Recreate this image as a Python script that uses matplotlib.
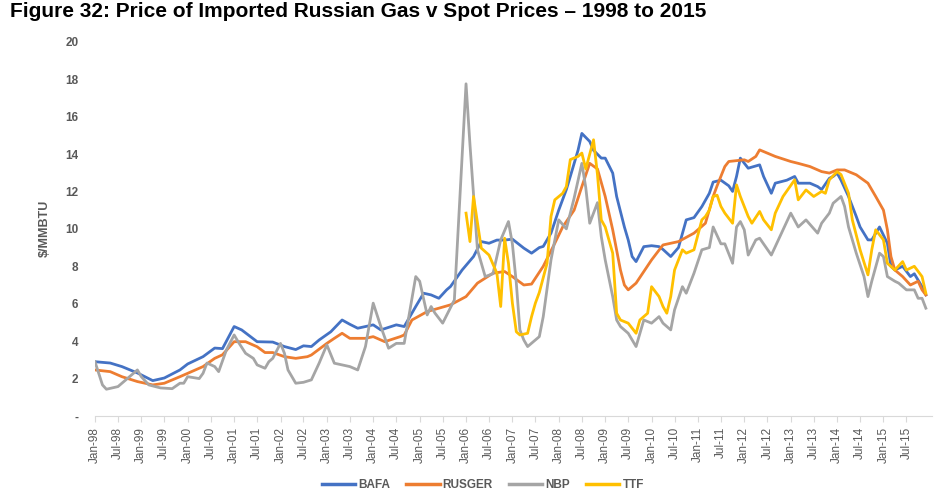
import matplotlib
matplotlib.use("Agg")
import matplotlib.pyplot as plt
import pandas as pd

plt.rcParams['font.family'] = ['Liberation Sans', 'DejaVu Sans']

# monthly prices ($/MMBTU)
bafa_months = ["1998-01", "1998-05", "1998-08", "1998-12", "1999-04", "1999-07", "1999-11", "2000-01",
               "2000-05", "2000-08", "2000-10", "2001-01", "2001-03", "2001-07", "2001-11", "2002-02",
               "2002-05", "2002-07", "2002-09", "2002-11", "2003-02", "2003-05", "2003-07", "2003-09",
               "2004-01", "2004-03", "2004-07", "2004-09", "2004-12", "2005-02", "2005-04", "2005-06",
               "2005-08", "2005-09", "2005-12", "2006-03", "2006-05", "2006-07", "2006-09", "2006-11",
               "2007-01", "2007-04", "2007-06", "2007-08", "2007-09", "2007-11", "2008-01", "2008-03",
               "2008-04", "2008-06", "2008-07", "2008-09", "2008-10", "2008-12", "2009-01", "2009-03",
               "2009-04", "2009-06", "2009-07", "2009-08", "2009-09", "2009-11", "2010-01", "2010-03",
               "2010-04", "2010-06", "2010-08", "2010-10", "2010-12", "2011-02", "2011-04", "2011-05",
               "2011-07", "2011-09", "2011-10", "2011-11", "2011-12", "2012-02", "2012-03", "2012-05",
               "2012-06", "2012-08", "2012-09", "2012-12", "2013-02", "2013-03", "2013-06", "2013-08",
               "2013-09", "2013-11", "2013-12", "2014-01", "2014-02", "2014-04", "2014-06", "2014-07",
               "2014-09", "2014-10", "2014-12", "2015-02", "2015-03", "2015-04", "2015-06", "2015-08",
               "2015-09", "2015-11", "2015-12"]
bafa_price = [2.9, 2.83, 2.64, 2.3, 1.89, 2.03, 2.46, 2.78,
              3.17, 3.63, 3.6, 4.78, 4.6, 3.97, 3.95, 3.71,
              3.55, 3.75, 3.71, 4.06, 4.5, 5.13, 4.9, 4.69,
              4.87, 4.6, 4.87, 4.78, 5.85, 6.56, 6.47, 6.29,
              6.74, 6.92, 7.8, 8.52, 9.32, 9.23, 9.4, 9.4,
              9.45, 8.97, 8.7, 9.0, 9.06, 9.77, 11.0, 12.1,
              12.8, 14.2, 15.1, 14.67, 14.2, 13.78, 13.78, 12.98,
              11.73, 10.1, 9.41, 8.52, 8.25, 9.05, 9.1, 9.05,
              8.9, 8.52, 9.0, 10.48, 10.6, 11.19, 11.9, 12.5,
              12.6, 12.3, 12.0, 12.8, 13.78, 13.24, 13.3, 13.42,
              12.8, 11.9, 12.44, 12.6, 12.8, 12.44, 12.44, 12.26,
              12.1, 12.7, 12.8, 12.98, 12.6, 11.73, 10.66, 10.1,
              9.41, 9.41, 10.1, 9.23, 8.0, 7.8, 8.0, 7.45,
              7.6, 6.91, 6.47]

rusger_months = ["1998-01", "1998-05", "1998-08", "1998-12", "1999-04", "1999-07", "1999-11", "2000-01",
                 "2000-05", "2000-08", "2000-10", "2001-01", "2001-04", "2001-07", "2001-09", "2001-11",
                 "2002-02", "2002-05", "2002-08", "2002-09", "2003-01", "2003-03", "2003-05", "2003-07",
                 "2003-11", "2004-01", "2004-04", "2004-08", "2004-09", "2004-11", "2005-03", "2005-06",
                 "2005-09", "2006-01", "2006-04", "2006-08", "2006-11", "2007-01", "2007-04", "2007-06",
                 "2007-09", "2007-12", "2008-02", "2008-05", "2008-07", "2008-09", "2008-11", "2009-01",
                 "2009-03", "2009-05", "2009-06", "2009-07", "2009-09", "2010-01", "2010-04", "2010-08",
                 "2010-12", "2011-03", "2011-05", "2011-06", "2011-08", "2011-09", "2012-01", "2012-02",
                 "2012-04", "2012-05", "2012-09", "2013-01", "2013-03", "2013-06", "2013-09", "2013-11",
                 "2014-01", "2014-03", "2014-06", "2014-09", "2014-11", "2015-01", "2015-02", "2015-03",
                 "2015-04", "2015-06", "2015-08", "2015-10", "2015-11", "2015-12"]
rusger_price = [2.46, 2.37, 2.1, 1.84, 1.66, 1.75, 2.1, 2.28,
                2.64, 3.08, 3.27, 3.97, 3.97, 3.7, 3.39, 3.39,
                3.17, 3.08, 3.17, 3.26, 3.88, 4.15, 4.42, 4.15,
                4.15, 4.24, 3.97, 4.24, 4.33, 5.13, 5.58, 5.76,
                5.94, 6.38, 7.1, 7.63, 7.72, 7.45, 7.0, 7.05,
                8.0, 9.23, 10.1, 11.0, 12.26, 13.5, 13.2, 11.73,
                9.95, 7.8, 7.0, 6.74, 7.1, 8.34, 9.14, 9.32,
                9.77, 10.3, 11.73, 12.3, 13.33, 13.6, 13.69, 13.6,
                13.87, 14.22, 13.87, 13.6, 13.5, 13.33, 13.06, 12.98,
                13.15, 13.15, 12.89, 12.44, 11.73, 11.0, 9.95, 8.52,
                7.8, 7.45, 7.0, 7.2, 6.74, 6.47]

nbp_months = ["1998-01", "1998-03", "1998-04", "1998-07", "1998-09", "1998-11", "1998-12", "1999-01",
              "1999-03", "1999-06", "1999-09", "1999-11", "1999-12", "2000-01", "2000-04", "2000-05",
              "2000-06", "2000-08", "2000-09", "2000-11", "2001-01", "2001-02", "2001-04", "2001-06",
              "2001-07", "2001-09", "2001-10", "2001-11", "2002-01", "2002-02", "2002-03", "2002-05",
              "2002-07", "2002-09", "2002-11", "2003-01", "2003-03", "2003-07", "2003-09", "2003-11",
              "2004-01", "2004-03", "2004-05", "2004-07", "2004-09", "2004-12", "2005-01", "2005-03",
              "2005-04", "2005-05", "2005-07", "2005-10", "2005-11", "2006-01", "2006-02", "2006-04",
              "2006-06", "2006-08", "2006-10", "2006-12", "2007-01", "2007-02", "2007-03", "2007-04",
              "2007-05", "2007-07", "2007-08", "2007-09", "2007-11", "2008-01", "2008-03", "2008-05",
              "2008-07", "2008-08", "2008-09", "2008-11", "2008-12", "2009-01", "2009-03", "2009-04",
              "2009-05", "2009-07", "2009-09", "2009-11", "2010-01", "2010-03", "2010-04", "2010-06",
              "2010-07", "2010-09", "2010-10", "2010-12", "2011-02", "2011-04", "2011-05", "2011-07",
              "2011-08", "2011-10", "2011-11", "2011-12", "2012-01", "2012-02", "2012-04", "2012-05",
              "2012-08", "2012-09", "2012-11", "2013-01", "2013-03", "2013-05", "2013-08", "2013-09",
              "2013-11", "2013-12", "2014-02", "2014-03", "2014-04", "2014-06", "2014-08", "2014-09",
              "2014-10", "2014-12", "2015-01", "2015-02", "2015-04", "2015-05", "2015-07", "2015-09",
              "2015-10", "2015-11", "2015-12"]
nbp_price = [2.9, 1.66, 1.43, 1.57, 1.93, 2.28, 2.46, 2.1,
             1.66, 1.5, 1.46, 1.75, 1.75, 2.1, 2.0, 2.28,
             2.83, 2.64, 2.37, 3.53, 4.33, 3.97, 3.35, 3.08,
             2.73, 2.55, 2.9, 3.08, 3.88, 3.35, 2.46, 1.75,
             1.8, 1.93, 2.82, 3.8, 2.82, 2.64, 2.46, 3.71,
             6.03, 4.78, 3.62, 3.88, 3.88, 7.45, 7.2, 5.4,
             5.85, 5.5, 4.96, 6.2, 10.1, 17.75, 14.5, 8.88,
             7.45, 7.6, 9.41, 10.39, 9.2, 7.1, 4.6, 4.06,
             3.71, 4.06, 4.24, 5.31, 8.34, 10.48, 10.0, 11.64,
             13.5, 12.2, 10.3, 11.4, 9.59, 8.34, 6.38, 5.13,
             4.78, 4.42, 3.71, 5.13, 4.96, 5.31, 4.96, 4.6,
             5.67, 6.91, 6.56, 7.63, 8.88, 9.0, 10.1, 9.2,
             9.2, 8.16, 10.1, 10.39, 9.95, 8.6, 9.41, 9.5,
             8.6, 9.05, 9.95, 10.84, 10.1, 10.48, 9.77, 10.3,
             10.84, 11.37, 11.73, 11.2, 10.1, 8.7, 7.45, 6.38,
             7.2, 8.7, 8.52, 7.45, 7.2, 7.1, 6.74, 6.74,
             6.29, 6.29, 5.76]

ttf_months = ["2006-01", "2006-02", "2006-03", "2006-05", "2006-07", "2006-09", "2006-10", "2006-11",
              "2006-12", "2007-01", "2007-02", "2007-03", "2007-05", "2007-06", "2007-07", "2007-08",
              "2007-10", "2007-11", "2007-12", "2008-02", "2008-03", "2008-04", "2008-06", "2008-07",
              "2008-08", "2008-10", "2008-11", "2008-12", "2009-01", "2009-03", "2009-04", "2009-05",
              "2009-07", "2009-09", "2009-10", "2009-12", "2010-01", "2010-03", "2010-04", "2010-05",
              "2010-06", "2010-07", "2010-09", "2010-10", "2010-12", "2011-02", "2011-03", "2011-04",
              "2011-05", "2011-06", "2011-07", "2011-08", "2011-10", "2011-11", "2011-12", "2012-02",
              "2012-03", "2012-05", "2012-06", "2012-08", "2012-09", "2012-11", "2013-02", "2013-03",
              "2013-05", "2013-07", "2013-09", "2013-10", "2013-11", "2014-01", "2014-02", "2014-04",
              "2014-05", "2014-07", "2014-09", "2014-10", "2014-11", "2015-01", "2015-02", "2015-04",
              "2015-06", "2015-07", "2015-09", "2015-11", "2015-12"]
ttf_price = [10.84, 9.32, 11.73, 8.97, 8.6, 7.63, 5.85, 9.5,
             8.16, 6.03, 4.5, 4.33, 4.42, 5.31, 6.03, 6.6,
             8.16, 10.66, 11.55, 11.9, 12.26, 13.7, 13.87, 14.05,
             13.2, 14.76, 12.9, 10.48, 10.1, 8.7, 5.49, 5.13,
             4.96, 4.42, 5.13, 5.49, 6.91, 6.38, 5.85, 5.49,
             6.38, 7.8, 8.88, 8.7, 8.88, 10.48, 10.66, 11.0,
             11.73, 11.8, 11.2, 10.84, 10.3, 12.35, 11.73, 10.66,
             10.3, 10.93, 10.48, 9.95, 10.84, 11.73, 12.62, 11.55,
             12.08, 11.73, 12.0, 11.9, 12.62, 13.06, 12.9, 11.9,
             10.48, 8.88, 7.54, 8.88, 9.95, 9.41, 8.16, 7.8,
             8.25, 7.8, 8.0, 7.45, 6.56]

series = [
    ("BAFA", bafa_months, bafa_price, "#4472C4"),
    ("RUSGER", rusger_months, rusger_price, "#ED7D31"),
    ("NBP", nbp_months, nbp_price, "#A5A5A5"),
    ("TTF", ttf_months, ttf_price, "#FFC000"),
]

grey = "#595959"

fig = plt.figure(figsize=(9.45, 4.92), dpi=100)
ax = fig.add_axes([0.1005, 0.1545, 0.8857, 0.7607])

for name, months, price, col in series:
    ax.plot(pd.to_datetime(months), price, color=col, lw=2.0, label=name,
            solid_joinstyle="round")

ax.set_ylim(0, 20)
ax.set_yticks(range(0, 21, 2))
ax.set_yticklabels(["-"] + [str(v) for v in range(2, 21, 2)])
ax.set_xlim(pd.Timestamp("1998-01-01"), pd.Timestamp("2016-01-18"))

ticks = pd.date_range("1998-01-01", "2015-07-01", freq="6MS")
ax.set_xticks(ticks)
ax.set_xticklabels([t.strftime("%b-%y") for t in ticks], rotation=90)

for s in ["top", "right", "left"]:
    ax.spines[s].set_visible(False)
ax.spines["bottom"].set_color("#d9d9d9")

ax.tick_params(axis="y", length=0, pad=12, labelsize=8.5, labelcolor=grey)
ax.tick_params(axis="x", length=4, color="#d9d9d9", pad=4, labelsize=8.5, labelcolor=grey)
for lab in ax.get_yticklabels():
    lab.set_fontweight("bold")

ax.set_ylabel(r"\$/MMBTU", color=grey, fontsize=9, fontweight="bold", labelpad=10)

fig.text(0.011, 0.9654, "Figure 32: Price of Imported Russian Gas v Spot Prices \u2013 1998 to 2015",
         fontsize=15, fontweight="bold", va="baseline", ha="left")

leg = fig.legend(loc="center", bbox_to_anchor=(0.511, 0.014), ncol=4, frameon=False,
                 handlelength=2.8, handletextpad=0.25, columnspacing=1.4,
                 prop={"size": 8.5, "weight": "bold"})
for t in leg.get_texts():
    t.set_color(grey)
for h in leg.get_lines():
    h.set_linewidth(2.5)

fig.savefig("out.png", dpi=100)
